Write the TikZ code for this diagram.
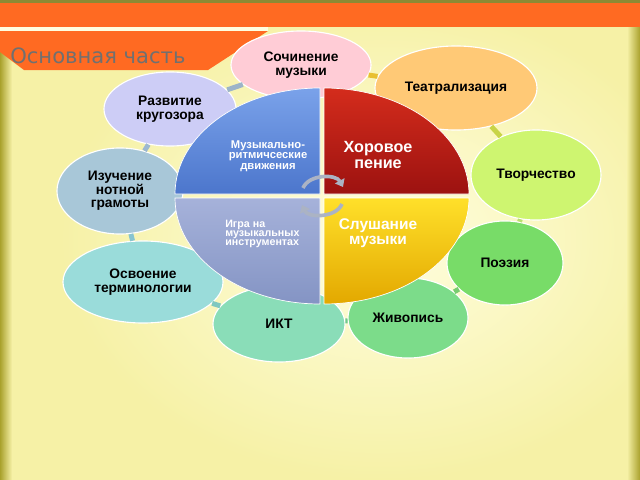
\documentclass[tikz,border=0pt]{standalone}
\usepackage{fontspec}
\setmainfont{Liberation Sans}
\newfontfamily\titlefont{DejaVu Sans}
\usetikzlibrary{shapes.geometric,arrows.meta}

\definecolor{bgyellow}{HTML}{F6F1A6}
\definecolor{bglight}{HTML}{FFFEE0}
\definecolor{edgeolive}{HTML}{A9A12C}
\definecolor{topolive}{HTML}{8C8A34}
\definecolor{bandorange}{HTML}{FF6A22}
\definecolor{titlegray}{HTML}{707070}
\definecolor{razvcol}{HTML}{CDCDF6}
\definecolor{sochcol}{HTML}{FFCCD6}
\definecolor{teatrcol}{HTML}{FFC976}
\definecolor{tvorcol}{HTML}{CEF570}
\definecolor{poezcol}{HTML}{78DC68}
\definecolor{zhivcol}{HTML}{7CDC8A}
\definecolor{iktcol}{HTML}{8ADDB8}
\definecolor{osvcol}{HTML}{9ADCDA}
\definecolor{izuchcol}{HTML}{A8C7D8}
\definecolor{arrowgray}{HTML}{ABB3C4}
\definecolor{bluetop}{HTML}{7AA2EA}
\definecolor{bluebot}{HTML}{4C76CC}
\definecolor{redtop}{HTML}{D42C1C}
\definecolor{redbot}{HTML}{9C1210}
\definecolor{yeltop}{HTML}{FFE02A}
\definecolor{yelbot}{HTML}{E3A800}
\definecolor{slatetop}{HTML}{A6B2DA}
\definecolor{slatebot}{HTML}{8494C4}

\tikzset{
  bubble/.style 2 args={ellipse, draw=white, line width=0.8pt,
    minimum width=#1*0.05cm, minimum height=#2*0.05cm, inner sep=0pt,
    align=center, font=\bfseries\fontsize{9.8}{9.6}\selectfont},
  link/.style={line width=3.5pt},
  pielabel/.style={text=white, inner sep=0pt},
  quarter/.style={draw=white!60, line width=0.5pt},
  cyclearrow/.style={line width=2.6pt, draw=arrowgray,
    -{Triangle[length=5pt,width=7.5pt]}},
}

\begin{document}
\begin{tikzpicture}[x=0.025cm, y=-0.025cm]
\useasboundingbox (0,0) rectangle (640,480);

% background
\fill[bgyellow] (0,0) rectangle (640,480);
\shade[inner color=bglight, outer color=bgyellow] (60,0) rectangle (700,480);
\shade[left color=edgeolive, right color=bgyellow] (0,0) rectangle (12,480);
\shade[left color=bgyellow, right color=edgeolive] (627,0) rectangle (640,480);
\fill[topolive] (0,0) rectangle (640,3);
\fill[bandorange] (0,3) rectangle (640,27);
\fill[bglight] (0,27) rectangle (268,31);
\fill[bandorange] (0,31) -- (268,31) -- (208,70) -- (24,70) -- (0,52) -- cycle;
\node[anchor=base west, inner sep=0pt, text=titlegray,
  font=\titlefont\fontsize{15}{15}\selectfont] (title) at (10,64) {Основная часть};

% outer ring
\node[bubble={66}{37}, fill=razvcol] (razv) at (170,109) {Развитие\\кругозора};
\node[bubble={70}{34}, fill=sochcol] (soch) at (301,65) {Сочинение\\музыки};
\node[bubble={81}{42}, fill=teatrcol] (teatr) at (456,88) {Театрализация};
\node[bubble={65}{45}, fill=tvorcol] (tvor) at (536,175) {Творчество};
\node[bubble={58}{42}, fill=poezcol] (poez) at (505,263) {Поэзия};
\node[bubble={60}{40}, fill=zhivcol] (zhiv) at (408,318) {Живопись};
\node[bubble={66}{38}, fill=iktcol] (ikt) at (279,324) {ИКТ};
\node[bubble={80}{41}, fill=osvcol] (osv) at (143,282) {Освоение\\терминологии};
\node[bubble={63}{43}, fill=izuchcol] (izuch) at (120,191) {Изучение\\нотной\\грамоты};

\foreach \a/\b/\c in {razv/soch/9CB4C8, soch/teatr/E8C030, teatr/tvor/C8D448,
  tvor/poez/B8E070, poez/zhiv/78CC70, zhiv/ikt/70C890, ikt/osv/80C8C0,
  osv/izuch/88C4D0, izuch/razv/9CB8D0}
{
  \definecolor{linkcol}{HTML}{\c}
  \draw[link, linkcol] (\a) -- (\b);
}

% centre circle
\shade[quarter, top color=bluetop, bottom color=bluebot]
  (320,194) -- (175,194) arc[start angle=180, end angle=270, x radius=145, y radius=106] -- cycle;
\shade[quarter, top color=redtop, bottom color=redbot]
  (324,194) -- (324,88) arc[start angle=270, end angle=360, x radius=145, y radius=106] -- cycle;
\shade[quarter, top color=yeltop, bottom color=yelbot]
  (324,198) -- (469,198) arc[start angle=0, end angle=90, x radius=145, y radius=106] -- cycle;
\shade[quarter, top color=slatetop, bottom color=slatebot]
  (320,198) -- (320,304) arc[start angle=90, end angle=180, x radius=145, y radius=106] -- cycle;

\node[pielabel, align=center, font=\bfseries\fontsize{8}{7.4}\selectfont] (muz) at (268,156)
  {Музыкально-\\ритмичсеские\\движения};
\node[pielabel, align=center, font=\bfseries\fontsize{11.5}{10.8}\selectfont] (hor) at (378,155)
  {Хоровое\\пение};
\node[pielabel, align=left, anchor=west, font=\bfseries\fontsize{7.6}{6.6}\selectfont] (igra) at (225,234)
  {Игра на\\музыкальных\\инструментах};
\node[pielabel, align=center, font=\bfseries\fontsize{11}{10.5}\selectfont] (slush) at (378,233)
  {Слушание\\музыки};

% cycle arrows
\coordinate (upA) at (303,188);
\coordinate (upB) at (343,187);
\coordinate (loA) at (342,204);
\coordinate (loB) at (302,205);
\draw[cyclearrow] (upA) .. controls (309,174) and (336,174) .. (upB);
\draw[cyclearrow] (loA) .. controls (336,218) and (308,218) .. (loB);
\end{tikzpicture}
\end{document}
